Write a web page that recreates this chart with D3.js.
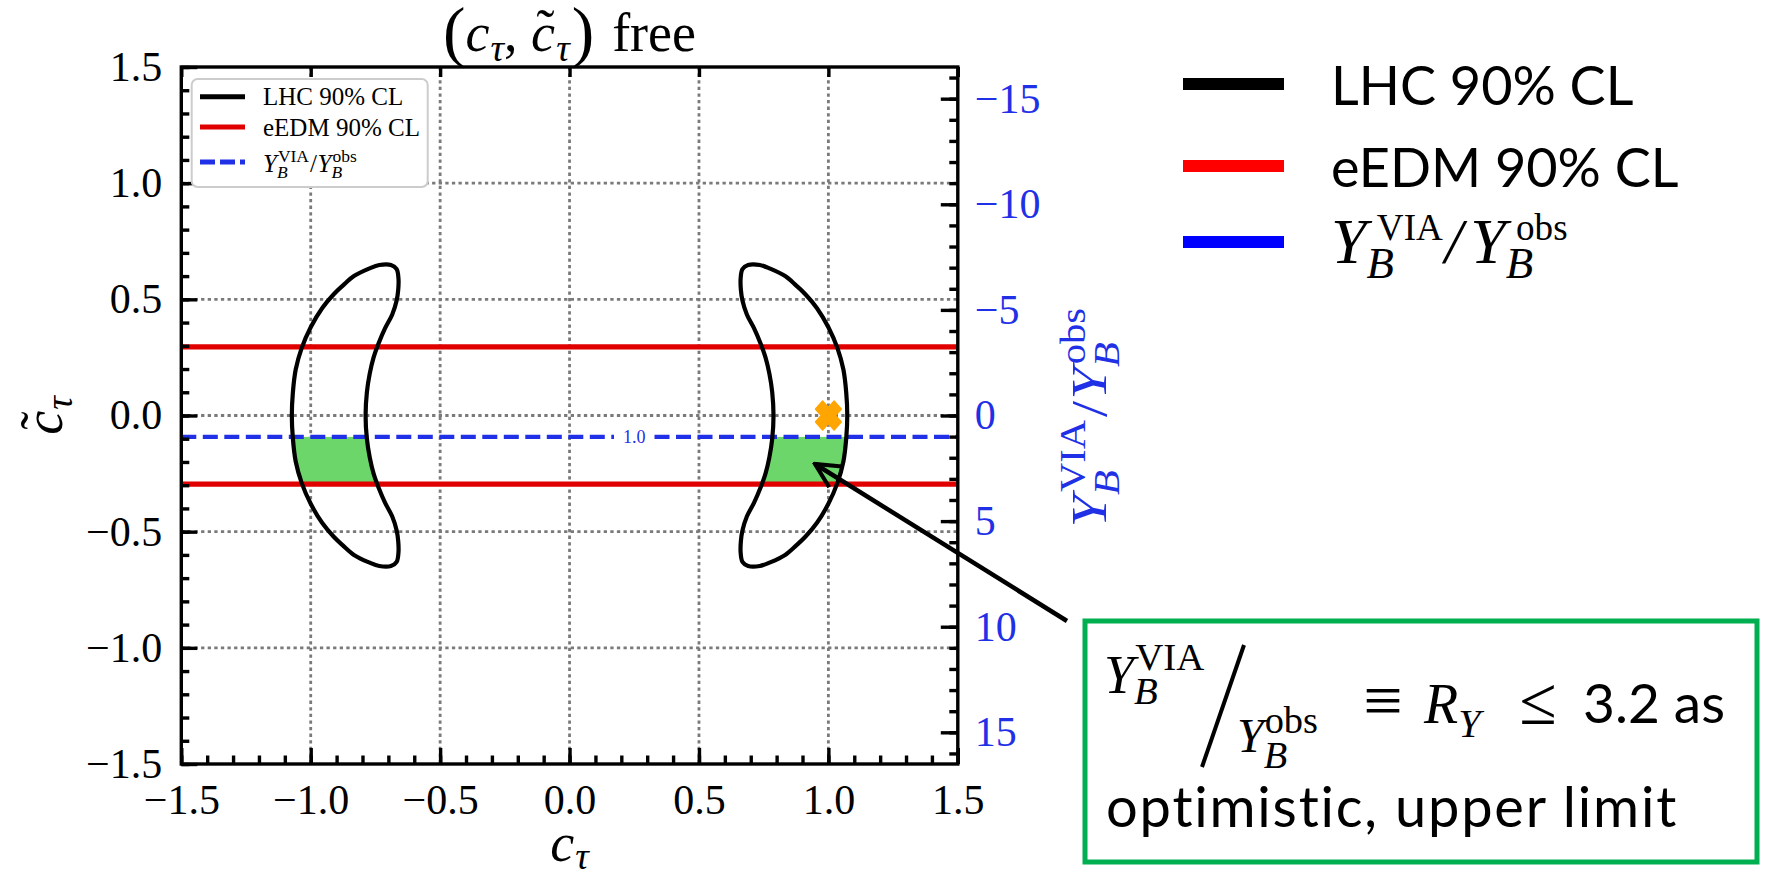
<!DOCTYPE html>
<html>
<head>
<meta charset="utf-8">
<script src="https://cdn.jsdelivr.net/npm/d3@7"></script>
<style>
  body { margin: 0; background: #fff; }
  svg { display: block; }
</style>
</head>
<body>
<svg id="chart" width="1772" height="874"></svg>
<script>
// ---------------- data ----------------
const xTicks = [-1.5, -1.0, -0.5, 0.0, 0.5, 1.0, 1.5];
const yTicks = [-1.5, -1.0, -0.5, 0.0, 0.5, 1.0, 1.5];
const rTicks = [-15, -10, -5, 0, 5, 10, 15];
const gridX = [-1.0, -0.5, 0.0, 0.5, 1.0];
const gridY = [-1.0, -0.5, 0.0, 0.5, 1.0];

// eEDM 90% CL limits on c~_tau
const eedmLimits = [0.295, -0.295];
// Y_B^VIA / Y_B^obs contour (level, c~_tau position, label position in c_tau)
const ratioLevels = [1.0];
const ratioCt = [-0.092];
const ratioLabelAt = [0.25];
// SM point (c_tau, c~_tau)
const smPoint = [[1.0, 0.0]];

// LHC 90% CL contour, c_tau < 0 branch (c_tau, c~_tau)
const lhcLeft = [
  [-0.735, 0.648], [-0.775, 0.632], [-0.833, 0.600], [-0.875, 0.560], [-0.911, 0.522],
  [-0.956, 0.462], [-1.000, 0.380], [-1.035, 0.290], [-1.058, 0.198], [-1.069, 0.098],
  [-1.073, 0.000], [-1.069, -0.098], [-1.058, -0.198], [-1.035, -0.290], [-1.000, -0.380],
  [-0.956, -0.462], [-0.911, -0.522], [-0.875, -0.560], [-0.833, -0.600], [-0.775, -0.632],
  [-0.735, -0.648], [-0.690, -0.648], [-0.668, -0.630], [-0.661, -0.590], [-0.662, -0.540],
  [-0.668, -0.495], [-0.685, -0.435], [-0.713, -0.375], [-0.738, -0.310], [-0.757, -0.250],
  [-0.772, -0.180], [-0.783, -0.100], [-0.788, 0.000], [-0.783, 0.100], [-0.772, 0.180],
  [-0.757, 0.250], [-0.738, 0.310], [-0.713, 0.375], [-0.685, 0.435], [-0.668, 0.495],
  [-0.662, 0.540], [-0.661, 0.590], [-0.668, 0.630], [-0.690, 0.648]
];
// LHC 90% CL contour, c_tau > 0 branch
const lhcRight = [
  [0.690, 0.648], [0.668, 0.630], [0.661, 0.590], [0.662, 0.540], [0.668, 0.495],
  [0.685, 0.435], [0.713, 0.375], [0.738, 0.310], [0.757, 0.250], [0.772, 0.180],
  [0.783, 0.100], [0.788, 0.000], [0.783, -0.100], [0.772, -0.180], [0.757, -0.250],
  [0.738, -0.310], [0.713, -0.375], [0.685, -0.435], [0.668, -0.495], [0.662, -0.540],
  [0.661, -0.590], [0.668, -0.630], [0.690, -0.648], [0.735, -0.648], [0.775, -0.632],
  [0.833, -0.600], [0.875, -0.560], [0.911, -0.522], [0.956, -0.462], [1.000, -0.380],
  [1.035, -0.290], [1.058, -0.198], [1.069, -0.098], [1.073, 0.000], [1.069, 0.098],
  [1.058, 0.198], [1.035, 0.290], [1.000, 0.380], [0.956, 0.462], [0.911, 0.522],
  [0.875, 0.560], [0.833, 0.600], [0.775, 0.632], [0.735, 0.648]
];
// allowed band in c~_tau: between the ratio = 1 contour and the lower eEDM limit
const bandCt = [-0.092, -0.295];

const legendItems = ["LHC 90% CL", "eEDM 90% CL"];

// ---------------- setup ----------------
const SERIF = "'Liberation Serif', 'Times New Roman', serif";
const SANS = "Lato, 'Open Sans', sans-serif";
const BLUE = "#1f30e6";
const RED = "#e00000";
const GREEN = "#6dd66b";
const NB = "\u00a0";

const svg = d3.select("#chart");
const P = { left: 181.3, right: 957.8, top: 67, bottom: 764 };

const x = d3.scaleLinear().domain([-1.5, 1.5]).range([P.left, P.right]);
const y = d3.scaleLinear().domain([-1.5, 1.5]).range([P.bottom, P.top]);
const yR = d3.scaleLinear().domain([-16.5, 16.5]).range([P.top, P.bottom]);

const defs = svg.append("defs");
defs.append("clipPath").attr("id", "plotClip")
  .append("rect").attr("x", P.left).attr("y", P.top)
  .attr("width", P.right - P.left).attr("height", P.bottom - P.top);

// small formula layout: runs of text with sub/superscripts stacked
function mathText(parent, items, opt) {
  const size = opt.size, fam = opt.family || SERIF, fill = opt.fill || "#000";
  const g = parent.append("g");
  let cx = 0;
  const put = (s, x0) => {
    const fs = size * (s.scale || 1);
    const t = g.append("text")
      .attr("x", x0 + (s.dx || 0) * size)
      .attr("y", (s.dy || 0) * size)
      .attr("font-family", s.family || fam)
      .attr("font-size", fs)
      .attr("font-style", s.it ? "italic" : "normal")
      .attr("fill", fill)
      .text(s.t.replace(/ /g, NB));
    return t.node().getComputedTextLength() + (s.dx || 0) * size + (s.adv || 0) * size;
  };
  items.forEach(it => {
    if (it.stack) {
      let w = 0;
      it.stack.forEach(s => { w = Math.max(w, put(s, cx)); });
      cx += w;
    } else {
      cx += put(it, cx);
    }
  });
  return { g, width: cx };
}
const ratioFormula = (sc, gap) => [
  { t: "Y", it: true },
  { stack: [{ t: "B", it: true, scale: sc, dy: 0.25 }, { t: "VIA", scale: sc, dy: -0.42, dx: gap }] },
  { t: "/", dx: gap },
  { t: "Y", it: true, dx: gap * 0.5 },
  { stack: [{ t: "B", it: true, scale: sc, dy: 0.25 }, { t: "obs", scale: sc, dy: -0.42, dx: gap }] }
];
const ctTilde = [
  { stack: [{ t: "c", it: true }, { t: "\u02dc", dx: 0.1, dy: -0.08 }] },
  { t: "\u03c4", it: true, scale: 0.7, dy: 0.18, dx: 0.02 }
];

// ---------------- grid ----------------
const grid = svg.append("g")
  .attr("stroke", "#7a7a7a").attr("stroke-width", 2.8).attr("stroke-dasharray", "3.3,3.3");
grid.selectAll("line.gx").data(gridX).join("line").attr("class", "gx")
  .attr("x1", d => x(d)).attr("x2", d => x(d)).attr("y1", P.top).attr("y2", P.bottom);
grid.selectAll("line.gy").data(gridY).join("line").attr("class", "gy")
  .attr("y1", d => y(d)).attr("y2", d => y(d)).attr("x1", P.left).attr("x2", P.right);

const plotG = svg.append("g").attr("clip-path", "url(#plotClip)");

// ---------------- allowed band inside the LHC regions ----------------
const contourLine = d3.line().x(d => x(d[0])).y(d => y(d[1])).curve(d3.curveCatmullRomClosed.alpha(0.5));
[lhcLeft, lhcRight].forEach((c, i) => {
  defs.append("clipPath").attr("id", "lhc" + i).append("path").attr("d", contourLine(c));
  plotG.append("rect")
    .attr("clip-path", `url(#lhc${i})`)
    .attr("x", P.left).attr("width", P.right - P.left)
    .attr("y", y(bandCt[0])).attr("height", y(bandCt[1]) - y(bandCt[0]))
    .attr("fill", GREEN);
});

// ---------------- eEDM limits ----------------
plotG.selectAll("line.eedm").data(eedmLimits).join("line").attr("class", "eedm")
  .attr("x1", P.left).attr("x2", P.right)
  .attr("y1", d => y(d)).attr("y2", d => y(d))
  .attr("stroke", RED).attr("stroke-width", 5.2);

// ---------------- Y_B ratio contour with inline label ----------------
ratioLevels.forEach((lvl, i) => {
  const yy = y(ratioCt[i]);
  const lab = plotG.append("text")
    .attr("x", x(ratioLabelAt[i])).attr("y", yy).attr("dy", "0.33em")
    .attr("text-anchor", "middle").attr("font-family", SERIF).attr("font-size", 18)
    .attr("fill", BLUE).text(lvl.toFixed(1));
  const half = lab.node().getComputedTextLength() / 2 + 9;
  const segs = [[P.left, x(ratioLabelAt[i]) - half], [x(ratioLabelAt[i]) + half, P.right]];
  plotG.selectAll(null).data(segs).join("line")
    .attr("x1", d => d[0]).attr("x2", d => d[1]).attr("y1", yy).attr("y2", yy)
    .attr("stroke", BLUE).attr("stroke-width", 4.3).attr("stroke-dasharray", "15,6.5");
});

// ---------------- LHC contours ----------------
plotG.selectAll("path.lhc").data([lhcLeft, lhcRight]).join("path").attr("class", "lhc")
  .attr("d", contourLine).attr("fill", "none")
  .attr("stroke", "#000").attr("stroke-width", 4.2).attr("stroke-linejoin", "round");

// ---------------- SM point marker (filled X) ----------------
const fatX = {
  draw(ctx, size) {
    const b = Math.sqrt(size) / 2, a = b * 0.38;
    const plus = [[-a, -b], [a, -b], [a, -a], [b, -a], [b, a], [a, a], [a, b], [-a, b], [-a, a], [-b, a], [-b, -a], [-a, -a]];
    const c = Math.SQRT1_2;
    plus.forEach(([px, py], k) => {
      const rx = c * (px - py), ry = c * (px + py);
      if (k === 0) ctx.moveTo(rx, ry); else ctx.lineTo(rx, ry);
    });
    ctx.closePath();
  }
};
plotG.selectAll("path.sm").data(smPoint).join("path").attr("class", "sm")
  .attr("transform", d => `translate(${x(d[0])},${y(d[1])}) scale(1,1.12)`)
  .attr("d", d3.symbol().type(fatX).size(690))
  .attr("fill", "#ffa500").attr("stroke", "#ffa500").attr("stroke-width", 1.5).attr("stroke-linejoin", "round");

// ---------------- axes ----------------
const fmt = d3.format(".1f");
const minus = s => s.replace("-", "\u2212");
function styleAxis(g, fs) {
  g.select(".domain").remove();
  g.selectAll(".tick line").attr("stroke", "#000").attr("stroke-width", 3.4);
  g.selectAll(".tick text").attr("font-family", SERIF).attr("font-size", fs);
}
const minorX = d3.range(-15, 16).map(v => v / 10);
const minorR = d3.range(-16, 17);

const axB = svg.append("g").attr("transform", `translate(0,${P.bottom})`)
  .call(d3.axisBottom(x).tickValues(xTicks).tickSize(-16).tickPadding(20).tickFormat(d => minus(fmt(d))));
styleAxis(axB, 42);
const axBm = svg.append("g").attr("transform", `translate(0,${P.bottom})`)
  .call(d3.axisBottom(x).tickValues(minorX).tickSize(-8.5).tickFormat(""));
styleAxis(axBm, 0);

const axL = svg.append("g").attr("transform", `translate(${P.left},0)`)
  .call(d3.axisLeft(y).tickValues(yTicks).tickSize(-16).tickPadding(19).tickFormat(d => minus(fmt(d))));
styleAxis(axL, 42);
const axLm = svg.append("g").attr("transform", `translate(${P.left},0)`)
  .call(d3.axisLeft(y).tickValues(minorX).tickSize(-8).tickFormat(""));
styleAxis(axLm, 0);

const axT = svg.append("g").attr("transform", `translate(0,${P.top})`)
  .call(d3.axisTop(x).tickValues(xTicks).tickSize(-10).tickFormat(""));
styleAxis(axT, 0);

const axR = svg.append("g").attr("transform", `translate(${P.right},0)`)
  .call(d3.axisRight(yR).tickValues(rTicks).tickSize(-17).tickPadding(17).tickFormat(d => minus(String(d))));
styleAxis(axR, 42);
axR.selectAll(".tick text").attr("fill", BLUE);
const axRm = svg.append("g").attr("transform", `translate(${P.right},0)`)
  .call(d3.axisRight(yR).tickValues(minorR).tickSize(-8.5).tickFormat(""));
styleAxis(axRm, 0);

// spines
svg.append("rect").attr("x", P.left).attr("y", P.top)
  .attr("width", P.right - P.left).attr("height", P.bottom - P.top)
  .attr("fill", "none").attr("stroke", "#000").attr("stroke-width", 3.4);

// ---------------- title and axis labels ----------------
{
  const t = mathText(svg, [
    { t: "(", scale: 1.25, dy: 0.06 },
    { t: "c", it: true },
    { t: "\u03c4", it: true, scale: 0.7, dy: 0.18, dx: 0.02 },
    { t: ", " },
    ...ctTilde,
    { t: ")", scale: 1.25, dy: 0.06, dx: 0.04 },
    { t: " free", dx: 0.08 }
  ], { size: 54 });
  t.g.attr("transform", `translate(${(P.left + P.right) / 2 - t.width / 2},51)`);

  const xl = mathText(svg, [
    { t: "c", it: true },
    { t: "\u03c4", it: true, scale: 0.7, dy: 0.14, dx: 0.02 }
  ], { size: 54 });
  xl.g.attr("transform", `translate(${(P.left + P.right) / 2 - xl.width / 2},861)`);

  const yl = mathText(svg, ctTilde, { size: 54 });
  yl.g.attr("transform", `translate(62,${(P.top + P.bottom) / 2}) rotate(-90) translate(${-yl.width / 2},0)`);

  const rl = mathText(svg, ratioFormula(0.7, 0.05), { size: 50, fill: BLUE });
  rl.g.attr("transform", `translate(1106,${(P.top + P.bottom) / 2 + 2}) rotate(-90) scale(1.16,1) translate(${-rl.width / 2},0)`);
}

// ---------------- legend inside the axes ----------------
{
  const lg = svg.append("g");
  lg.append("rect").attr("x", 191.7).attr("y", 79).attr("width", 236).attr("height", 108)
    .attr("rx", 6).attr("fill", "#fff").attr("stroke", "#cccccc").attr("stroke-width", 2);
  const rows = [96.7, 127, 162];
  const styles = [["#000", null], [RED, null], [BLUE, "15,5"]];
  lg.selectAll("line").data(rows).join("line")
    .attr("x1", 200).attr("x2", 245).attr("y1", d => d).attr("y2", d => d)
    .attr("stroke", (d, i) => styles[i][0]).attr("stroke-width", 5)
    .attr("stroke-dasharray", (d, i) => styles[i][1]);
  legendItems.forEach((s, i) => {
    lg.append("text").attr("x", 263).attr("y", rows[i] + 8.5)
      .attr("font-family", SERIF).attr("font-size", 25).text(s);
  });
  const m = mathText(lg, ratioFormula(0.7, 0.04), { size: 25 });
  m.g.attr("transform", "translate(263,172)");
}

// ---------------- large legend on the right ----------------
{
  const rg = svg.append("g");
  const rows = [84, 166, 242];
  const cols = ["#000", "#ff0000", "#0000ff"];
  rg.selectAll("line").data(rows).join("line")
    .attr("x1", 1183).attr("x2", 1284).attr("y1", d => d).attr("y2", d => d)
    .attr("stroke", (d, i) => cols[i]).attr("stroke-width", 12);
  legendItems.forEach((s, i) => {
    rg.append("text").attr("x", 1331).attr("y", rows[i] + 21)
      .attr("font-family", SANS).attr("font-size", 54).text(s);
  });
  const m = mathText(rg, [
    { t: "Y", it: true },
    { stack: [{ t: "B", it: true, scale: 0.7, dy: 0.23 }, { t: "VIA", scale: 0.58, dy: -0.36, dx: 0.16 }] },
    { t: "/", dx: 0.03, it: true },
    { t: "Y", it: true, dx: 0.12 },
    { stack: [{ t: "B", it: true, scale: 0.7, dy: 0.23 }, { t: "obs", scale: 0.58, dy: -0.36, dx: 0.16 }] }
  ], { size: 64 });
  m.g.attr("transform", "translate(1331,263)");
}

// ---------------- annotation box and arrow ----------------
{
  const ag = svg.append("g");
  defs.append("marker").attr("id", "head").attr("viewBox", "0 0 12 12")
    .attr("refX", 11).attr("refY", 6).attr("markerWidth", 6.5).attr("markerHeight", 6.5)
    .attr("markerUnits", "strokeWidth").attr("orient", "auto")
    .append("path").attr("d", "M1,1 L11,6 L1,11").attr("fill", "none")
    .attr("stroke", "#000").attr("stroke-width", 1.7);
  ag.append("line").attr("x1", 1067).attr("y1", 621).attr("x2", 815).attr("y2", 464)
    .attr("stroke", "#000").attr("stroke-width", 4.5).attr("marker-end", "url(#head)");

  ag.append("rect").attr("x", 1085).attr("y", 621).attr("width", 672).attr("height", 241)
    .attr("fill", "#fff").attr("stroke", "#00b050").attr("stroke-width", 5);

  const num = mathText(ag, [
    { t: "Y", it: true },
    { stack: [{ t: "B", it: true, scale: 0.72, dy: 0.2 }, { t: "VIA", scale: 0.72, dy: -0.42, dx: 0.02 }] }
  ], { size: 54 });
  num.g.attr("transform", "translate(1104,693)");
  ag.append("line").attr("x1", 1244).attr("y1", 645).attr("x2", 1202).attr("y2", 767)
    .attr("stroke", "#000").attr("stroke-width", 4);
  const den = mathText(ag, [
    { t: "Y", it: true },
    { stack: [{ t: "B", it: true, scale: 0.8, dy: 0.34 }, { t: "obs", scale: 0.8, dy: -0.39, dx: 0.02 }] }
  ], { size: 48 });
  den.g.attr("transform", "translate(1237,752)");

  ag.append("text").attr("x", 1383).attr("y", 724).attr("text-anchor", "middle")
    .attr("font-family", SERIF).attr("font-size", 70).text("\u2261");
  const ry = mathText(ag, [
    { t: "R", it: true },
    { t: "Y", it: true, scale: 0.72, dy: 0.25 }
  ], { size: 56 });
  ry.g.attr("transform", "translate(1424,723)");
  ag.append("text").attr("x", 1538).attr("y", 724).attr("text-anchor", "middle")
    .attr("font-family", SERIF).attr("font-size", 68).text("\u2264");
  ag.append("text").attr("x", 1583).attr("y", 723).attr("font-family", SANS).attr("font-size", 55).text("3.2 as");
  ag.append("text").attr("x", 1106).attr("y", 827).attr("font-family", SANS).attr("font-size", 56)
    .attr("letter-spacing", 1.8).text("optimistic, upper limit");
}
</script>
</body>
</html>
